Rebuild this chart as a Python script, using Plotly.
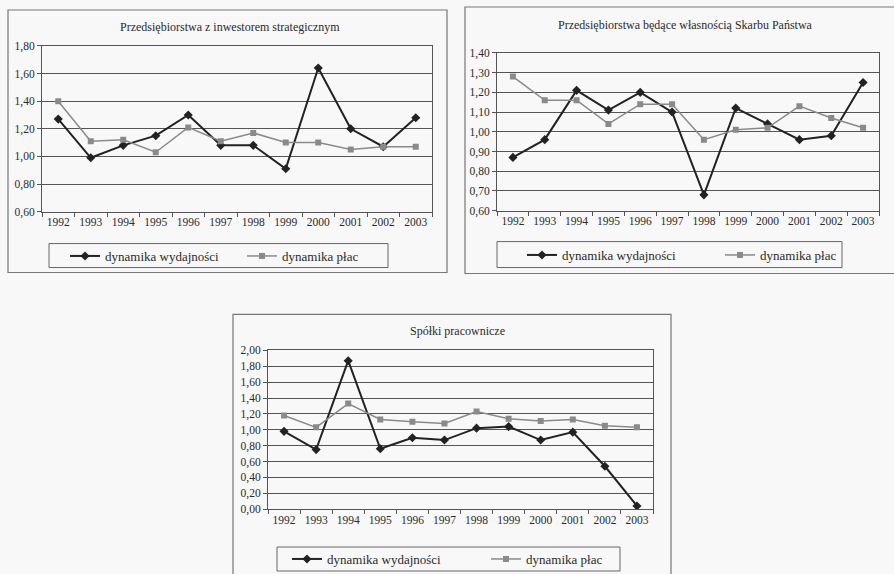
import plotly.graph_objects as go

W, H = 894, 574

years = ["1992", "1993", "1994", "1995", "1996", "1997",
         "1998", "1999", "2000", "2001", "2002", "2003"]

# Przedsiębiorstwa z inwestorem strategicznym
inw_wydajnosc = [1.27, 0.99, 1.08, 1.15, 1.30, 1.08, 1.08, 0.91, 1.64, 1.20, 1.07, 1.28]
inw_place = [1.40, 1.11, 1.12, 1.03, 1.21, 1.11, 1.17, 1.10, 1.10, 1.05, 1.07, 1.07]

# Przedsiębiorstwa będące własnością Skarbu Państwa
skarb_wydajnosc = [0.87, 0.96, 1.21, 1.11, 1.20, 1.10, 0.68, 1.12, 1.04, 0.96, 0.98, 1.25]
skarb_place = [1.28, 1.16, 1.16, 1.04, 1.14, 1.14, 0.96, 1.01, 1.02, 1.13, 1.07, 1.02]

# Spółki pracownicze
sp_wydajnosc = [0.98, 0.75, 1.87, 0.76, 0.90, 0.87, 1.02, 1.04, 0.87, 0.97, 0.54, 0.04]
sp_place = [1.18, 1.03, 1.33, 1.13, 1.10, 1.08, 1.23, 1.14, 1.11, 1.13, 1.05, 1.03]

titles = ["Przedsiębiorstwa z inwestorem strategicznym",
          "Przedsiębiorstwa będące własnością Skarbu Państwa",
          "Spółki pracownicze"]
series_names = ["dynamika wydajności", "dynamika płac"]

FONT = "Liberation Serif, Times New Roman, serif"
BG = "#f8f8f8"
INK = "#2a2a2a"
GRID = "#555555"
C_WYD = "#222222"
C_PLAC = "#8a8a8a"


def px_x(v):
    return v / W


def px_y(v):
    return 1 - v / H


# panel geometry in pixels: plot area (left, top, right, bottom), frame,
# legend box, left edge of each legend entry, title centre
panels = [
    dict(plot=(42, 46, 432, 212), frame=(8, 10, 447, 273), leg=(49, 244, 388, 268),
         leg_x=(65, 242), title=(230, 27), yr=(0.6, 1.8), dt=0.2,
         data=(inw_wydajnosc, inw_place)),
    dict(plot=(497, 53, 879, 211), frame=(465, 7, 900, 274), leg=(497, 242, 842, 268),
         leg_x=(522, 720), title=(685, 25), yr=(0.6, 1.4), dt=0.1,
         data=(skarb_wydajnosc, skarb_place)),
    dict(plot=(268, 351, 653, 510), frame=(233, 315, 671, 580), leg=(277, 548, 620, 572),
         leg_x=(287, 486), title=(458, 332), yr=(0.0, 2.0), dt=0.2,
         data=(sp_wydajnosc, sp_place)),
]

fig = go.Figure()
shapes = []
annotations = []
layout_extra = {}

for i, p in enumerate(panels):
    n = "" if i == 0 else str(i + 1)
    xa, ya = "x" + n, "y" + n
    wyd, plac = p["data"]
    lg1 = "legend" + ("" if i == 0 else str(2 * i + 1))
    lg2 = "legend" + str(2 * i + 2)

    fig.add_trace(go.Scatter(
        x=years, y=wyd, xaxis=xa, yaxis=ya, name=series_names[0], legend=lg1,
        mode="lines+markers", line=dict(color=C_WYD, width=2),
        marker=dict(symbol="diamond", size=7, color=C_WYD)))
    fig.add_trace(go.Scatter(
        x=years, y=plac, xaxis=xa, yaxis=ya, name=series_names[1], legend=lg2,
        mode="lines+markers", line=dict(color=C_PLAC, width=1.5),
        marker=dict(symbol="square", size=6, color=C_PLAC)))

    l, t, r, b = p["plot"]
    layout_extra["xaxis" + n] = dict(
        domain=[px_x(l), px_x(r)], anchor=ya, type="category",
        range=[-0.5, len(years) - 0.5], tickson="boundaries",
        ticks="outside", ticklen=4, tickcolor=GRID, tickangle=0,
        showline=True, linecolor=GRID, linewidth=1, mirror=True,
        showgrid=False, fixedrange=True, automargin=False,
        tickfont=dict(family=FONT, size=11.5, color=INK))
    layout_extra["yaxis" + n] = dict(
        domain=[px_y(b), px_y(t)], anchor=xa,
        range=list(p["yr"]), dtick=p["dt"], tick0=0, tickformat=".2f",
        ticks="outside", ticklen=4, tickcolor=GRID,
        showline=True, linecolor=GRID, linewidth=1, mirror=True,
        showgrid=True, gridcolor=GRID, gridwidth=1.3, zeroline=False,
        fixedrange=True, automargin=False,
        tickfont=dict(family=FONT, size=11.5, color=INK))

    fl, ft, fr, fb = p["frame"]
    shapes.append(dict(type="rect", xref="paper", yref="paper",
                       x0=px_x(fl), x1=px_x(fr), y0=px_y(fb), y1=px_y(ft),
                       line=dict(color="#777777", width=1.2)))
    ll, lt, lr, lb = p["leg"]
    shapes.append(dict(type="rect", xref="paper", yref="paper",
                       x0=px_x(ll), x1=px_x(lr), y0=px_y(lb), y1=px_y(lt),
                       line=dict(color="#666666", width=1)))

    tx, ty = p["title"]
    annotations.append(dict(text=titles[i], xref="paper", yref="paper",
                            x=px_x(tx), y=px_y(ty), xanchor="center", yanchor="middle",
                            showarrow=False,
                            font=dict(family=FONT, size=12, color=INK)))

    for lg, lx in zip((lg1, lg2), p["leg_x"]):
        layout_extra[lg] = dict(
            orientation="h", x=px_x(lx), y=px_y((lt + lb) / 2),
            xanchor="left", yanchor="middle", bgcolor="rgba(0,0,0,0)",
            borderwidth=0, font=dict(family=FONT, size=13, color=INK),
            itemclick=False, itemdoubleclick=False)

fig.update_layout(
    template="none",
    width=W, height=H, autosize=False,
    margin=dict(l=0, r=0, t=0, b=0),
    paper_bgcolor=BG, plot_bgcolor=BG,
    separators=", ",
    showlegend=True,
    shapes=shapes, annotations=annotations,
    **layout_extra)

fig.write_html("out.html", config={"displayModeBar": False})
